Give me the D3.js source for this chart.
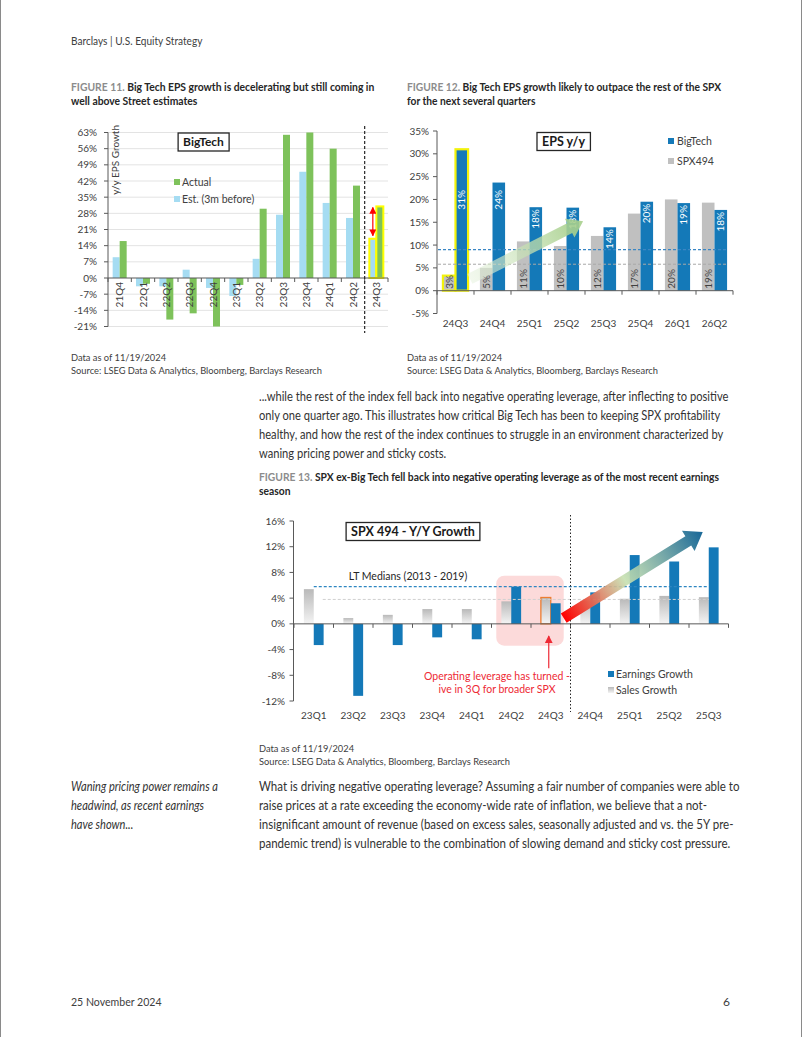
<!DOCTYPE html>
<html><head><meta charset="utf-8">
<script src="https://cdn.jsdelivr.net/npm/d3@7"></script>
<style>
html,body{margin:0;padding:0;background:#fff;}
svg{display:block;font-family:Lato,"Open Sans",sans-serif;}
</style></head><body>
<svg id="page" width="802" height="1037"></svg>
<script>
// ---------------- DATA ----------------
const fig11Categories = ["21Q4","22Q1","22Q2","22Q3","22Q4","23Q1","23Q2","23Q3","23Q4","24Q1","24Q2","24Q3"];
const fig11Actual    = [16, -2.5, -18, -15.3, -21, -3, 30, 62, 63, 56, 40, 31];
const fig11Estimate  = [9, -3.6, -3.6, 3.6, -4.3, -7.8, 8.3, 27.4, 46, 32.5, 26, 17];
const fig11YTicks    = [-21, -14, -7, 0, 7, 14, 21, 28, 35, 42, 49, 56, 63];
const fig11SeriesNames = ["Actual", "Est. (3m before)"];

const fig12Categories = ["24Q3","24Q4","25Q1","25Q2","25Q3","25Q4","26Q1","26Q2"];
const fig12BigTech    = [31, 23.7, 18.3, 18.2, 13.9, 19.5, 19.2, 17.7];
const fig12Spx494     = [3.3, 5, 10.8, 9.8, 12, 16.9, 20, 19.3];
const fig12YTicks     = [-5, 0, 5, 10, 15, 20, 25, 30, 35];
const fig12Medians    = [9, 5.8];          // BigTech, SPX494 reference lines
const fig12SeriesNames = ["BigTech", "SPX494"];

const fig13Categories = ["23Q1","23Q2","23Q3","23Q4","24Q1","24Q2","24Q3","24Q4","25Q1","25Q2","25Q3"];
const fig13Earnings   = [-3.3, -11.2, -3.3, -2.1, -2.4, 5.8, 3.2, 4.9, 10.7, 9.7, 11.9];
const fig13Sales      = [5.4, 0.9, 1.4, 2.3, 2.3, 3.5, 4.1, 3.6, 3.9, 4.35, 4.15];
const fig13YTicks     = [-12, -8, -4, 0, 4, 8, 12, 16];
const fig13Medians    = [5.8, 3.8];        // earnings, sales LT medians
const fig13SeriesNames = ["Earnings Growth", "Sales Growth"];

const headerText = "Barclays | U.S. Equity Strategy";
const footerDate = "25 November 2024";
const footerPage = "6";
const sourceLines = ["Data as of 11/19/2024", "Source: LSEG Data & Analytics, Bloomberg, Barclays Research"];
const fig11Title = ["Big Tech EPS growth is decelerating but still coming in", "well above Street estimates"];
const fig12Title = ["Big Tech EPS growth likely to outpace the rest of the SPX", "for the next several quarters"];
const fig13Title = ["SPX ex-Big Tech fell back into negative operating leverage as of the most recent earnings", "season"];
const para1 = [
  "...while the rest of the index fell back into negative operating leverage, after inflecting to positive",
  "only one quarter ago. This illustrates how critical Big Tech has been to keeping SPX profitability",
  "healthy, and how the rest of the index continues to struggle in an environment characterized by",
  "waning pricing power and sticky costs."
];
const sidebar = ["Waning pricing power remains a", "headwind, as recent earnings", "have shown..."];
const para2 = [
  "What is driving negative operating leverage? Assuming a fair number of companies were able to",
  "raise prices at a rate exceeding the economy-wide rate of inflation, we believe that a not-",
  "insignificant amount of revenue (based on excess sales, seasonally adjusted and vs. the 5Y pre-",
  "pandemic trend) is vulnerable to the combination of slowing demand and sticky cost pressure."
];

// ---------------- SETUP ----------------
const svg = d3.select("#page");
const defs = svg.append("defs");
const TXT = "#404040", AX = "#595959";
const pct = v => v + "%";

svg.append("line").attr("x1",0.5).attr("x2",0.5).attr("y1",0).attr("y2",1037).attr("stroke","#8a8a8a");
svg.append("line").attr("x1",801.5).attr("x2",801.5).attr("y1",0).attr("y2",1037).attr("stroke","#8a8a8a");

function squeeze(sel, f) {
  if (f === 1) return;
  const n = sel.node(); const w = n.getComputedTextLength();
  sel.attr("textLength", (w*f).toFixed(2)).attr("lengthAdjust","spacingAndGlyphs");
}
function textLines(x, y0, lh, lines, opts={}) {
  lines.forEach((t,i)=>{
    const s = svg.append("text").attr("x",x).attr("y",y0+i*lh).text(t)
      .attr("font-size",opts.size||12).attr("fill",opts.fill||"#333")
      .attr("font-style",opts.italic?"italic":null)
      .attr("font-weight",opts.weight||null)
      .attr("text-anchor",opts.anchor||null);
    squeeze(s, opts.squeeze||1);
  });
}
function figTitle(x, y0, num, lines, f) {
  lines.forEach((t,i)=>{
    const tx = svg.append("text").attr("x",x).attr("y",y0+i*13.5).attr("font-size",11).attr("font-weight","bold");
    if (i===0) tx.append("tspan").attr("fill","#8c8c8c").text("FIGURE "+num+". ");
    tx.append("tspan").attr("fill","#262626").text(t);
    squeeze(tx, f);
  });
}

textLines(71, 45, 0, [headerText], {size:12, fill:TXT, squeeze:0.84});
textLines(71, 1006, 0, [footerDate], {size:12, fill:TXT, squeeze:0.88});
textLines(730, 1006, 0, [footerPage], {size:12, fill:TXT, anchor:"end"});

figTitle(71, 91, 11, fig11Title, 0.94);
figTitle(407, 91, 12, fig12Title, 0.93);
figTitle(259, 481, 13, fig13Title, 0.935);
textLines(71, 361, 13, sourceLines, {size:9.3, fill:TXT});
textLines(407, 361, 13, sourceLines, {size:9.3, fill:TXT});
textLines(259, 752, 13, sourceLines, {size:9.3, fill:TXT});
textLines(259, 401, 19, para1, {size:12.6, fill:"#333", squeeze:0.885});
textLines(71, 791, 19, sidebar, {size:12.6, fill:"#333", italic:true, squeeze:0.88});
textLines(259, 791, 19, para2, {size:12.6, fill:"#333", squeeze:0.915});

// helpers
function leftAxis(g, y, ticks, x0, fmtX) {
  g.append("line").attr("x1",x0).attr("x2",x0).attr("y1",y.range()[1]).attr("y2",y.range()[0]).attr("stroke",AX);
  ticks.forEach(t=>{
    g.append("line").attr("x1",x0-4).attr("x2",x0).attr("y1",y(t)).attr("y2",y(t)).attr("stroke",AX);
    g.append("text").attr("x",fmtX).attr("y",y(t)).attr("dy","0.35em").attr("text-anchor","end")
      .attr("font-size",10).attr("fill",TXT).text(pct(t));
  });
}
function zeroAxis(g, x, y) {
  const r = x.range();
  g.append("line").attr("x1",r[0]).attr("x2",r[1]).attr("y1",y(0)).attr("y2",y(0)).attr("stroke",AX);
  d3.range(x.domain().length+1).forEach(i=>{
    const xx = r[0] + i*x.step();
    g.append("line").attr("x1",xx).attr("x2",xx).attr("y1",y(0)).attr("y2",y(0)+4).attr("stroke",AX);
  });
}
function barRect(g, x, y, v) {
  return g.append("rect").attr("x",x)
    .attr("y", y(Math.max(0,v))).attr("height", Math.abs(y(v)-y(0)));
}
function titleBox(g, cx, cy, text, size) {
  const t = g.append("text").attr("x",cx).attr("y",cy).attr("dy","0.36em").attr("text-anchor","middle")
    .attr("font-size",size).attr("font-weight","bold").attr("fill","#1a1a1a").text(text);
  const bb = t.node().getBBox();
  g.insert("rect","text").attr("x",bb.x-5).attr("y",cy-9).attr("width",bb.width+10).attr("height",18)
    .attr("fill","#fff").attr("stroke","#262626").attr("stroke-width",1.3);
  t.raise();
}
function blockArrow(g, x0, y0, x1, y1, shaftW, headW, headL, gradId) {
  const len = Math.hypot(x1-x0, y1-y0);
  const ang = Math.atan2(y1-y0, x1-x0)*180/Math.PI;
  const pts = [[0,-shaftW/2],[len-headL,-shaftW/2],[len-headL,-headW/2],[len,0],[len-headL,headW/2],[len-headL,shaftW/2],[0,shaftW/2]];
  const grp = g.append("g").attr("transform",`translate(${x0},${y0}) rotate(${ang})`);
  grp.append("polygon").attr("points",pts.map(p=>p.join(",")).join(" ")).attr("fill",`url(#${gradId})`);
  return len;
}
function makeGrad(id, stops, x2) {
  const gr = defs.append("linearGradient").attr("id",id).attr("gradientUnits","userSpaceOnUse")
    .attr("x1",0).attr("y1",0).attr("x2",x2).attr("y2",0);
  stops.forEach(s=>gr.append("stop").attr("offset",s[0]).attr("stop-color",s[1]).attr("stop-opacity",s[2]==null?1:s[2]));
}

const mk = defs.append("marker").attr("id","redHead").attr("viewBox","0 0 10 10").attr("refX",9).attr("refY",5)
  .attr("markerWidth",7).attr("markerHeight",7).attr("markerUnits","userSpaceOnUse").attr("orient","auto-start-reverse");
mk.append("path").attr("d","M0,0 L10,5 L0,10 Z").attr("fill","#ff0000");
const mk2 = defs.append("marker").attr("id","redHead2").attr("viewBox","0 0 10 10").attr("refX",9).attr("refY",5)
  .attr("markerWidth",8).attr("markerHeight",8).attr("markerUnits","userSpaceOnUse").attr("orient","auto");
mk2.append("path").attr("d","M0,0 L10,5 L0,10 Z").attr("fill","#ee2a35");

const sg = defs.append("linearGradient").attr("id","salesGrad").attr("x1",0).attr("y1",0).attr("x2",0).attr("y2",1);
sg.append("stop").attr("offset",0).attr("stop-color","#b9b9b9");
sg.append("stop").attr("offset",1).attr("stop-color","#f4f4f4");

// ---------------- FIGURE 11 ----------------
(function(){
  const g = svg.append("g");
  const GREEN = "#7ec25b", LBLUE = "#a5dcf2";
  const x = d3.scaleBand().domain(fig11Categories).range([108,388]).paddingInner(0.4).paddingOuter(0.2);
  const xi = d3.scaleBand().domain(["est","act"]).range([0,x.bandwidth()]);
  const y = d3.scaleLinear().domain([-21,63]).range([326.5,132.5]);
  fig11YTicks.forEach(t=>{ if(t!==0) g.append("line").attr("x1",108).attr("x2",388).attr("y1",y(t)).attr("y2",y(t)).attr("stroke","#e3e3e3"); });
  const last = fig11Categories[fig11Categories.length-1];
  fig11Categories.forEach((c,i)=>{
    const hl = c===last;
    barRect(g, x(c)+xi("est"), y, fig11Estimate[i]).attr("width",xi.bandwidth()).attr("fill",LBLUE)
      .attr("stroke",hl?"#ffff00":null).attr("stroke-width",hl?2:null);
    barRect(g, x(c)+xi("act"), y, fig11Actual[i]).attr("width",xi.bandwidth()).attr("fill",GREEN)
      .attr("stroke",hl?"#ffff00":null).attr("stroke-width",hl?2:null);
    g.append("text").attr("transform",`translate(${x(c)+x.bandwidth()/2},${y(0)+4}) rotate(-90)`)
      .attr("dy","0.35em").attr("text-anchor","end").attr("font-size",10).attr("fill",TXT).text(c);
  });
  leftAxis(g, y, fig11YTicks, 108, 97);
  zeroAxis(g, x, y);
  const bx = x(last) - (x.step()-x.bandwidth())/2;
  g.append("line").attr("x1",bx).attr("x2",bx).attr("y1",126).attr("y2",333).attr("stroke","#262626").attr("stroke-width",1.2).attr("stroke-dasharray","3,2");
  const li = fig11Categories.length-1;
  const ax = x(last)+xi("est")+xi.bandwidth()/2;
  g.append("line").attr("x1",ax).attr("x2",ax).attr("y1",y(fig11Estimate[li])-3).attr("y2",y(fig11Actual[li])+1)
    .attr("stroke","#ff0000").attr("stroke-width",1.2).attr("marker-start","url(#redHead)").attr("marker-end","url(#redHead)");
  g.append("text").attr("transform","translate(115.5,125) rotate(-90)").attr("dy","0.35em").attr("text-anchor","end")
    .attr("font-size",10).attr("fill",TXT).text("y/y EPS Growth");
  titleBox(g, 203.5, 142, "BigTech", 12);
  [[GREEN,fig11SeriesNames[0],182],[LBLUE,fig11SeriesNames[1],199]].forEach(d=>{
    g.append("rect").attr("x",174).attr("y",d[2]-3).attr("width",6).attr("height",6).attr("fill",d[0]);
    g.append("text").attr("x",182).attr("y",d[2]).attr("dy","0.35em").attr("font-size",10.5).attr("fill",TXT).text(d[1]);
  });
})();

// ---------------- FIGURE 12 ----------------
(function(){
  const g = svg.append("g");
  const BLUE = "#1479b8", GRAY = "#c0c0c0";
  const x = d3.scaleBand().domain(fig12Categories).range([437,733]).paddingInner(0.32).paddingOuter(0.16);
  const xi = d3.scaleBand().domain(["spx","bt"]).range([0,x.bandwidth()]);
  const y = d3.scaleLinear().domain([-5,35]).range([313.5,131]);
  const first = fig12Categories[0];
  fig12Categories.forEach((c,i)=>{
    const hl = c===first;
    barRect(g, x(c)+xi("spx"), y, fig12Spx494[i]).attr("width",xi.bandwidth()).attr("fill",GRAY)
      .attr("stroke",hl?"#f2f20a":null).attr("stroke-width",hl?2.2:null);
    barRect(g, x(c)+xi("bt"), y, fig12BigTech[i]).attr("width",xi.bandwidth()).attr("fill",BLUE)
      .attr("stroke",hl?"#f2f20a":null).attr("stroke-width",hl?2.2:null);
  });
  g.append("line").attr("x1",438).attr("x2",728).attr("y1",y(fig12Medians[0])).attr("y2",y(fig12Medians[0]))
    .attr("stroke","#3a86c4").attr("stroke-width",1.3).attr("stroke-dasharray","3,2");
  g.append("line").attr("x1",438).attr("x2",728).attr("y1",y(fig12Medians[1])).attr("y2",y(fig12Medians[1]))
    .attr("stroke","#a8a8a8").attr("stroke-width",1).attr("stroke-dasharray","3,2");
  fig12Categories.forEach((c,i)=>{
    const cxs = x(c)+xi("spx")+xi.bandwidth()/2, cxb = x(c)+xi("bt")+xi.bandwidth()/2;
    g.append("text").attr("transform",`translate(${cxs},${y(0)-2}) rotate(-90)`).attr("dy","0.35em")
      .attr("font-size",10).attr("fill","#404040").text(Math.round(fig12Spx494[i])+"%");
    g.append("text").attr("transform",`translate(${cxb},${y(Math.min(fig12BigTech[i],22.5))+2}) rotate(-90)`).attr("dy","0.35em")
      .attr("text-anchor","end").attr("font-size",10).attr("fill","#ffffff").text(Math.round(fig12BigTech[i])+"%");
    g.append("text").attr("x",x(c)+x.bandwidth()/2).attr("y",y(-5)+13).attr("text-anchor","middle")
      .attr("font-size",10).attr("fill",TXT).text(c);
  });
  leftAxis(g, y, fig12YTicks, 437, 429);
  zeroAxis(g, x, y);
  makeGrad("greenGrad", [[0,"#e8f3e0",0.55],[1,"#a8d08d",0.9]], 115);
  blockArrow(g, x("24Q4")-10, y(2.6), x("25Q2")+x.bandwidth()+4, y(15.2), 11, 21, 15, "greenGrad");
  titleBox(g, 563.5, 141.5, "EPS y/y", 12.5);
  [[BLUE,fig12SeriesNames[0],141],[GRAY,fig12SeriesNames[1],161]].forEach(d=>{
    g.append("rect").attr("x",668).attr("y",d[2]-3).attr("width",6).attr("height",6).attr("fill",d[0]);
    g.append("text").attr("x",677).attr("y",d[2]).attr("dy","0.35em").attr("font-size",10.5).attr("fill",TXT).text(d[1]);
  });
})();

// ---------------- FIGURE 13 ----------------
(function(){
  const g = svg.append("g");
  const BLUE = "#1479b8";
  const x = d3.scaleBand().domain(fig13Categories).range([294,728.5]).paddingInner(0.5).paddingOuter(0.25);
  const xi = d3.scaleBand().domain(["sales","earn"]).range([0,x.bandwidth()]);
  const y = d3.scaleLinear().domain([-12,16]).range([701,521]);
  const xc = c => x(c)+x.bandwidth()/2;
  g.append("rect").attr("x",xc("24Q2")-15).attr("y",y(7.5)).attr("width",xc("24Q3")-xc("24Q2")+28)
    .attr("height",y(-3.4)-y(7.5)).attr("rx",8).attr("fill","#fbd3d3").attr("opacity",0.85);
  fig13Categories.forEach((c,i)=>{
    barRect(g, x(c)+xi("sales"), y, fig13Sales[i]).attr("width",xi.bandwidth()).attr("fill","url(#salesGrad)")
      .attr("stroke",c==="24Q3"?"#ed7d31":null).attr("stroke-width",c==="24Q3"?1.3:null);
    barRect(g, x(c)+xi("earn"), y, fig13Earnings[i]).attr("width",xi.bandwidth()).attr("fill",BLUE);
    g.append("text").attr("x",xc(c)).attr("y",719).attr("text-anchor","middle").attr("font-size",10).attr("fill",TXT).text(c);
  });
  const lx0 = xc(fig13Categories[0]), lx1 = xc(fig13Categories[fig13Categories.length-1]);
  g.append("line").attr("x1",lx0).attr("x2",lx1).attr("y1",y(fig13Medians[0])).attr("y2",y(fig13Medians[0]))
    .attr("stroke","#2e86c1").attr("stroke-width",1.3).attr("stroke-dasharray","3,2");
  g.append("line").attr("x1",lx0+9).attr("x2",lx1).attr("y1",y(fig13Medians[1])).attr("y2",y(fig13Medians[1]))
    .attr("stroke","#d0d0d0").attr("stroke-width",1).attr("stroke-dasharray","3,2");
  g.append("text").attr("x",408).attr("y",y(fig13Medians[0])-7).attr("text-anchor","middle").attr("font-size",10.5)
    .attr("fill","#262626").text("LT Medians (2013 - 2019)");
  leftAxis(g, y, fig13YTicks, 293.5, 285);
  zeroAxis(g, x, y);
  const bx = x("24Q4") - (x.step()-x.bandwidth())/2;
  g.append("line").attr("x1",bx).attr("x2",bx).attr("y1",515).attr("y2",712).attr("stroke","#262626").attr("stroke-dasharray","1.5,2");
  const rx = xc("24Q3")-2;
  g.append("line").attr("x1",rx).attr("x2",rx).attr("y1",y(-6.9)).attr("y2",y(-1.9)).attr("stroke","#ee2a35")
    .attr("stroke-width",1.2).attr("marker-end","url(#redHead2)");
  ["Operating leverage has turned -","ive in 3Q for broader SPX"].forEach((t,i)=>{
    g.append("text").attr("x",497).attr("y",680+i*12.5).attr("text-anchor","middle").attr("font-size",10.5)
      .attr("fill","#ee2a35").text(t);
  });
  makeGrad("rgbGrad", [[0,"#ff0000"],[0.45,"#c6e0b0",0.9],[1,"#1f6c99"]], 160);
  blockArrow(g, xc("24Q3")+13, y(0.9), xc("25Q3")-6, y(14.3), 11, 24, 17, "rgbGrad");
  titleBox(g, 413, 531.5, "SPX 494 - Y/Y Growth", 12.5);
  [[BLUE,fig13SeriesNames[0],674],["url(#salesGrad)",fig13SeriesNames[1],690]].forEach(d=>{
    g.append("rect").attr("x",608).attr("y",d[2]-3).attr("width",6).attr("height",6).attr("fill",d[0]);
    g.append("text").attr("x",616).attr("y",d[2]).attr("dy","0.35em").attr("font-size",10.5).attr("fill",TXT).text(d[1]);
  });
})();
</script>
</body></html>
